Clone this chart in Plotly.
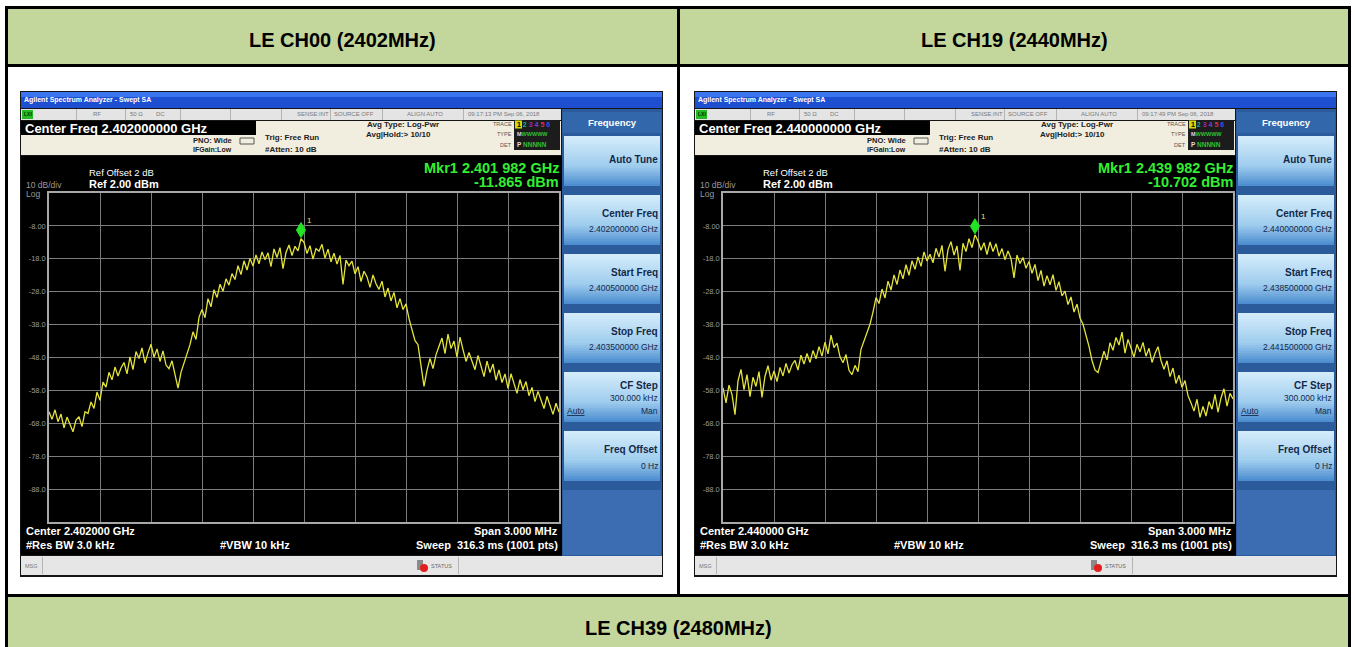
import plotly.graph_objects as go

W, H = 1355, 647
FONT = "Liberation Sans, Arial, sans-serif"

# ---------------- data ----------------
ch_titles = ["LE CH00 (2402MHz)", "LE CH19 (2440MHz)", "LE CH39 (2480MHz)"]
center_mhz = [2402.0, 2440.0]
span_mhz = 3.0
n_pts = 171
timestamps = ["09:17:13 PM Sep 06, 2018", "09:17:49 PM Sep 06, 2018"]
mkr_freq_ghz = [2.401982, 2.439982]
mkr_level_dbm = [-11.865, -10.702]
ref_level_dbm = 2.0
ytick_vals = [-8, -18, -28, -38, -48, -58, -68, -78, -88]
ytick_text = ["-8.00", "-18.0", "-28.0", "-38.0", "-48.0", "-58.0", "-68.0", "-78.0", "-88.0"]

trace_ch00 = [
    -64.5, -66.8, -63.9, -67.5, -65.2, -69.4, -66.1, -68.3, -70.6, -67.0,
    -66.0, -69.0, -64.5, -65.0, -61.5, -63.5, -58.5, -61.0, -55.5, -57.0,
    -52.5, -54.8, -50.9, -53.6, -51.2, -49.5, -53.0, -47.8, -51.7, -46.2,
    -48.3, -45.1, -49.7, -46.6, -44.0, -47.9, -45.4, -49.2, -46.0, -50.3,
    -51.4, -49.0, -53.2, -57.3, -52.5, -49.8, -47.0, -44.1, -40.2, -42.5,
    -35.8, -33.4, -35.9, -30.1, -32.6, -27.4, -29.8, -25.7, -27.9, -24.1,
    -26.0, -22.5, -24.3, -20.1, -22.8, -18.6, -21.4, -17.9, -20.2, -16.8,
    -19.5, -15.9, -18.3, -16.2, -20.4, -15.0, -17.6, -14.6, -21.0, -16.1,
    -13.8, -17.0, -14.2, -15.6, -11.9, -13.0, -16.4, -14.0, -18.1, -14.9,
    -15.7, -13.6, -17.8, -15.1, -18.9, -16.3, -19.6, -17.0, -25.8, -18.4,
    -20.1, -18.7, -22.6, -20.4, -24.9, -21.8, -23.5, -26.7, -22.9, -25.6,
    -27.3, -24.8, -29.6, -26.9, -30.8, -28.2, -32.9, -30.1, -33.4, -31.7,
    -36.2, -39.8, -42.9, -44.1, -50.7, -56.8, -51.9, -48.3, -51.4, -47.2,
    -44.6, -42.1, -46.8, -40.9, -45.3, -43.0, -47.9, -41.8, -45.6, -49.2,
    -46.5, -48.8, -51.7, -47.4, -50.3, -53.8, -49.1, -52.6, -50.0, -54.9,
    -51.8, -55.6, -53.0, -57.4, -52.9, -56.2, -58.9, -54.7, -57.8, -55.3,
    -59.6, -57.1, -61.4, -58.3, -60.9, -63.5, -59.8, -62.7, -65.3, -61.9, -64.6,
]
trace_ch19 = [
    -57.2, -61.8, -56.4, -59.3, -65.4, -55.1, -51.6, -57.8, -53.2, -59.9,
    -54.0, -56.8, -52.3, -60.1, -53.7, -50.5, -54.9, -52.1, -55.3, -51.0,
    -53.6, -49.8, -52.7, -50.2, -48.9, -51.8, -47.3, -50.0, -46.8, -49.5,
    -45.9, -48.4, -44.7, -47.6, -43.3, -46.9, -41.2, -45.0, -43.6, -47.8,
    -49.6, -47.1, -51.9, -53.2, -50.4, -52.3, -45.5, -42.8, -40.6, -37.9,
    -34.2, -29.8, -31.6, -27.2, -29.9, -24.8, -27.5, -22.9, -25.8, -21.4,
    -24.1, -19.8, -23.0, -18.6, -21.2, -17.4, -20.3, -15.9, -18.7, -16.6,
    -19.2, -14.8, -17.5, -13.9, -21.8, -15.2, -12.8, -16.9, -14.1, -21.5,
    -13.3, -15.8, -11.9, -14.6, -10.7, -12.6, -15.4, -13.1, -16.7, -12.9,
    -15.8, -13.4, -17.2, -14.9, -18.3, -15.6, -17.9, -23.8, -16.9, -19.4,
    -17.6, -20.9, -18.8, -22.4, -19.7, -24.6, -21.5, -26.3, -23.1, -25.9,
    -22.8, -27.6, -25.0, -29.3, -27.8, -31.9, -29.6, -34.2, -31.8, -36.0,
    -37.9, -41.3, -44.6, -48.9, -51.8, -52.6, -49.3, -46.1, -48.7, -43.5,
    -45.8, -41.9, -44.2, -40.3, -46.7, -42.5, -45.1, -47.9, -44.0, -46.3,
    -43.4, -47.6, -45.2, -49.5, -46.8, -44.7, -48.9, -51.6, -49.0, -53.8,
    -51.2, -55.9, -53.4, -57.1, -55.0, -59.6, -61.8, -64.3, -60.7, -66.2,
    -62.9, -65.8, -61.4, -63.7, -59.2, -64.6, -60.3, -57.5, -62.8, -58.9, -60.6,
]
traces = [trace_ch00, trace_ch19]


# ---------------- helpers ----------------
def X(px):
    return px / W


def Y(py):
    return 1 - py / H


shapes = []
anns = []


def rect(x0, y0, x1, y1, fill, line=None, lw=0):
    shapes.append(dict(type="rect", xref="paper", yref="paper",
                       x0=X(x0), x1=X(x1), y0=Y(y1), y1=Y(y0),
                       fillcolor=fill, line=dict(width=lw, color=line or fill),
                       layer="below"))


def txt(x, y, s, size, color="#000000", bold=False, xanchor="left"):
    if bold:
        s = "<b>" + s + "</b>"
    anns.append(dict(x=X(x), y=Y(y), xref="paper", yref="paper", text=s,
                     showarrow=False, xanchor=xanchor, yanchor="middle",
                     borderpad=0, font=dict(size=size, color=color, family=FONT)))


def mix(c1, c2, t):
    a = [int(c1[i:i + 2], 16) for i in (1, 3, 5)]
    b = [int(c2[i:i + 2], 16) for i in (1, 3, 5)]
    return "#%02x%02x%02x" % tuple(round(a[i] + (b[i] - a[i]) * t) for i in range(3))


# ---------------- table ----------------
GREEN = "#c3d69b"
rect(5, 6, 1351, 66, GREEN)
rect(5, 596, 1351, 647, GREEN)
rect(5, 6, 1351, 9, "#000000")
rect(5, 64, 1351, 67, "#000000")
rect(5, 594, 1351, 597, "#000000")
rect(5, 6, 8, 647, "#000000")
rect(1348, 6, 1351, 647, "#000000")
rect(677, 6, 680, 596, "#000000")
txt(342, 40, ch_titles[0], 20, "#000000", True, "center")
txt(1015, 40, ch_titles[1], 20, "#000000", True, "center")
txt(678, 628, ch_titles[2], 20, "#000000", True, "center")

# ---------------- analyzer chrome ----------------
NAVY = "#13294b"


def analyzer(k, ox):
    c = center_mhz[k]
    # frame + title bar
    rect(20 + ox, 91, 663 + ox, 577, "#151515")
    rect(21 + ox, 92, 662 + ox, 108, "#1d4fd0")
    rect(21 + ox, 92, 662 + ox, 97, "#3a74ee")
    txt(23 + ox, 100.5, "Agilent Spectrum Analyzer - Swept SA", 7, "#ffffff", True)
    # status row
    rect(21 + ox, 109, 561 + ox, 120, "#e4e4e4")
    rect(22 + ox, 110, 33 + ox, 119, "#25b825")
    txt(23 + ox, 114.5, "LXI", 5, "#003300", True)
    for dx in [76, 125, 180, 230, 281, 330, 382, 463]:
        rect(dx + ox, 109, dx + 1 + ox, 120, "#b4b4b4")
    gray = "#7a7a7a"
    txt(92 + ox, 114.5, "RF", 6, gray)
    txt(129 + ox, 114.5, "50 Ω", 6, gray)
    txt(155 + ox, 114.5, "DC", 6, gray)
    txt(296 + ox, 114.5, "SENSE:INT", 6, gray)
    txt(333 + ox, 114.5, "SOURCE OFF", 6, gray)
    txt(406 + ox, 114.5, "ALIGN AUTO", 6, gray)
    txt(467 + ox, 114.5, timestamps[k], 6, gray)
    # beige info area
    rect(21 + ox, 121, 561 + ox, 155, "#f1eee0")
    rect(21 + ox, 121, 256 + ox, 135, "#000000")
    txt(24 + ox, 128, "Center Freq %.9f GHz" % (c / 1000), 13, "#ffffff", True)
    txt(192 + ox, 140.5, "PNO: Wide", 7.5, "#222222", True)
    txt(192 + ox, 150, "IFGain:Low", 7, "#222222", True)
    shapes.append(dict(type="rect", xref="paper", yref="paper", x0=X(240 + ox), x1=X(254 + ox),
                       y0=Y(144), y1=Y(138), line=dict(color="#555555", width=1), layer="below"))
    txt(264 + ox, 137.5, "Trig: Free Run", 8, "#222222", True)
    txt(264 + ox, 149, "#Atten: 10 dB", 8, "#222222", True)
    txt(366 + ox, 124.5, "Avg Type: Log-Pwr", 8, "#222222", True)
    txt(365 + ox, 134, "Avg|Hold:&gt; 10/10", 8, "#222222", True)
    # trace / type / det block
    rect(514 + ox, 120, 560 + ox, 150, "#1c1c1c")
    txt(513 + ox, 124.5, "TRACE", 5.5, "#555555", False, "right")
    txt(513 + ox, 134.5, "TYPE", 5.5, "#555555", False, "right")
    txt(513 + ox, 144.5, "DET", 5.5, "#555555", False, "right")
    rect(515 + ox, 120.5, 522 + ox, 128.5, "#d8d800")
    txt(516 + ox, 124.5,
        '<span style="color:#000">1</span> <span style="color:#10b0b0">2</span> '
        '<span style="color:#b020b0">3</span> <span style="color:#8040d0">4</span> '
        '<span style="color:#e03050">5</span> <span style="color:#3050ff">6</span>', 7, "#000000", True)
    txt(516 + ox, 134.5, '<span style="color:#ddd">M</span><span style="color:#30c030">WWWWW</span>', 5.5, "#30c030", True)
    txt(516 + ox, 144.5, '<span style="color:#ddd">P</span> NNNNN', 6.5, "#30c030", True)
    # black display area
    rect(21 + ox, 156, 562 + ox, 555, "#000000")
    txt(88 + ox, 172, "Ref Offset 2 dB", 9.5, "#ffffff")
    txt(88 + ox, 184, "Ref %.2f dBm" % ref_level_dbm, 11, "#ffffff", True)
    txt(25 + ox, 185, "10 dB/div", 8.5, "#9a9a9a")
    txt(25 + ox, 193.5, "Log", 8.5, "#9a9a9a")
    f = "%.6f" % mkr_freq_ghz[k]
    txt(560 + ox, 168, "Mkr1 " + f[:5] + " " + f[5:] + " GHz", 14.5, "#33ee33", True, "right")
    txt(560 + ox, 182, "%.3f dBm" % mkr_level_dbm[k], 14.5, "#33ee33", True, "right")
    txt(25 + ox, 531, "Center %.6f GHz" % (c / 1000), 11, "#ffffff", True)
    txt(25 + ox, 544.5, "#Res BW 3.0 kHz", 11, "#ffffff", True)
    txt(219 + ox, 544.5, "#VBW 10 kHz", 11, "#ffffff", True)
    txt(559 + ox, 531, "Span %.3f MHz" % span_mhz, 11, "#ffffff", True, "right")
    txt(559 + ox, 544.5, "Sweep&nbsp;&nbsp;316.3 ms (1001 pts)", 11, "#ffffff", True, "right")
    # softkey panel
    rect(562 + ox, 109, 662 + ox, 556, "#2c5b9b")
    rect(563 + ox, 112, 661 + ox, 133, "#3367ab")
    txt(612 + ox, 122, "Frequency", 9.5, "#ffffff", True, "center")
    nb = 25
    for i in range(6):
        y0 = 136 + 59 * i
        for j in range(nb):
            t = j / (nb - 1)
            col = mix("#d4ecfa", "#9fcdee", t / 0.6) if t < 0.6 else mix("#9fcdee", "#4e8ed0", (t - 0.6) / 0.4)
            rect(564 + ox, y0 + 2 * j, 660 + ox, y0 + 2 * (j + 1), col)
    rect(563 + ox, 490, 661 + ox, 555, "#3c6db3")
    rx = 659 + ox
    txt(rx, 160, "Auto Tune", 10, NAVY, True, "right")
    txt(rx, 213, "Center Freq", 10, NAVY, True, "right")
    txt(rx, 229, "%.9f GHz" % (c / 1000), 8.5, NAVY, False, "right")
    txt(rx, 272, "Start Freq", 10, NAVY, True, "right")
    txt(rx, 288, "%.9f GHz" % ((c - span_mhz / 2) / 1000), 8.5, NAVY, False, "right")
    txt(rx, 331, "Stop Freq", 10, NAVY, True, "right")
    txt(rx, 347, "%.9f GHz" % ((c + span_mhz / 2) / 1000), 8.5, NAVY, False, "right")
    txt(rx, 385, "CF Step", 10, NAVY, True, "right")
    txt(rx, 398, "300.000 kHz", 8.5, NAVY, False, "right")
    txt(566 + ox, 411, "<u>Auto</u>", 8.5, NAVY, False)
    txt(rx, 411, "Man", 8.5, NAVY, False, "right")
    txt(rx, 449, "Freq Offset", 10, NAVY, True, "right")
    txt(rx, 466, "0 Hz", 8.5, NAVY, False, "right")
    # bottom message bar
    rect(21 + ox, 556, 662 + ox, 575, "#e6e6e6")
    rect(42 + ox, 557, 43 + ox, 574, "#b4b4b4")
    txt(24 + ox, 565.5, "MSG", 5.5, "#777777")
    rect(417 + ox, 560, 423 + ox, 570, "#8a8a8a")
    shapes.append(dict(type="circle", xref="paper", yref="paper", x0=X(420 + ox), x1=X(428 + ox),
                       y0=Y(572), y1=Y(564), fillcolor="#e02020", line=dict(width=0), layer="below"))
    txt(430 + ox, 565.5, "STATUS", 5.5, "#666666")
    rect(458 + ox, 557, 459 + ox, 574, "#b4b4b4")


analyzer(0, 0)
analyzer(1, 674)

# ---------------- plots ----------------
fig = go.Figure()
plot_px = [(49, 559), (723, 1233)]
for k in range(2):
    c = center_mhz[k]
    start = c - span_mhz / 2
    freqs = [start + i * span_mhz / (n_pts - 1) for i in range(n_pts)]
    xa = "x" if k == 0 else "x2"
    ya = "y" if k == 0 else "y2"
    fig.add_trace(go.Scatter(x=freqs, y=traces[k], mode="lines",
                             line=dict(color="#e4e43a", width=1.3),
                             xaxis=xa, yaxis=ya, hoverinfo="skip"))
    mf = mkr_freq_ghz[k] * 1000
    shapes.append(dict(type="path", xref=xa, yref=ya, xsizemode="pixel", ysizemode="pixel",
                       xanchor=mf, yanchor=mkr_level_dbm[k],
                       path="M 0 1 L 4.5 8.5 L 0 16 L -4.5 8.5 Z",
                       fillcolor="#22e422", line=dict(color="#22e422", width=1), layer="above"))
    anns.append(dict(x=mf, y=mkr_level_dbm[k], xref=xa, yref=ya, text="1", showarrow=False,
                     xshift=9, yshift=18, font=dict(size=8, color="#e0e060", family=FONT)))

ax_common = dict(showgrid=True, gridcolor="#7c7c7c", gridwidth=1, zeroline=False,
                 showline=True, mirror=True, linecolor="#a8a8a8", linewidth=1.5)
layout = dict(width=W, height=H, margin=dict(l=0, r=0, t=0, b=0),
              paper_bgcolor="#ffffff", plot_bgcolor="#000000", showlegend=False,
              shapes=shapes, annotations=anns)
for k in range(2):
    c = center_mhz[k]
    sfx = "" if k == 0 else "2"
    x0, x1 = plot_px[k]
    layout["xaxis" + sfx] = dict(ax_common, domain=[X(x0), X(x1)],
                                 range=[c - span_mhz / 2, c + span_mhz / 2],
                                 tick0=c - span_mhz / 2, dtick=span_mhz / 10,
                                 showticklabels=False, ticks="",
                                 anchor="y" + sfx)
    layout["yaxis" + sfx] = dict(ax_common, domain=[Y(522), Y(193)],
                                 range=[ref_level_dbm - 100, ref_level_dbm],
                                 tickvals=ytick_vals, ticktext=ytick_text, ticks="",
                                 tickfont=dict(size=7.5, color="#9a9a9a", family=FONT),
                                 anchor="x" + sfx)
fig.update_layout(**layout)
fig.write_html("out.html", config={"displayModeBar": False},
               post_script="document.body.style.margin='0';document.body.style.overflow='hidden';")
